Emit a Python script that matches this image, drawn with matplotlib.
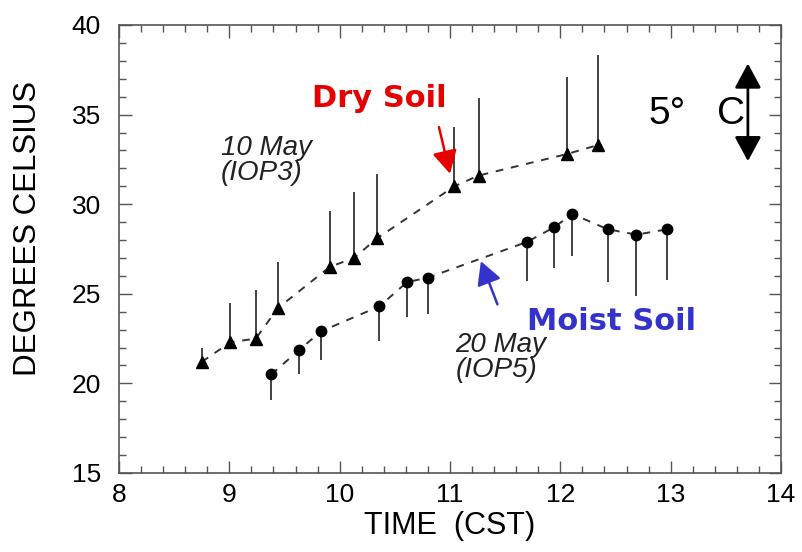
import matplotlib
matplotlib.use("Agg")
import matplotlib.pyplot as plt
from matplotlib.ticker import MultipleLocator

# 10 May (IOP3) - dry soil, triangles with upward bars
dry_time = [8.75, 9.01, 9.24, 9.44, 9.91, 10.13, 10.34, 11.04, 11.26, 12.06, 12.34]
dry_temp = [21.2, 22.3, 22.5, 24.2, 26.5, 27.0, 28.1, 31.0, 31.6, 32.8, 33.3]
dry_upper = [22.0, 24.5, 25.2, 26.8, 29.6, 30.7, 31.7, 34.3, 35.9, 37.1, 38.3]

# 20 May (IOP5) - moist soil, circles with downward bars
moist_time = [9.38, 9.63, 9.83, 10.36, 10.61, 10.80, 11.70, 11.94, 12.11, 12.43, 12.69, 12.97]
moist_temp = [20.5, 21.85, 22.9, 24.3, 25.65, 25.9, 27.9, 28.7, 29.45, 28.6, 28.3, 28.6]
moist_lower = [19.1, 20.5, 21.3, 22.35, 23.7, 23.9, 25.7, 26.45, 27.1, 25.65, 24.9, 25.75]

plt.rcParams['font.family'] = ['Liberation Sans', 'DejaVu Sans']

fig = plt.figure(figsize=(8.02, 5.52), dpi=100)
ax = fig.add_axes([119 / 802, 1 - 473 / 552, (781 - 119) / 802, (473 - 25) / 552])

line_col = '#333333'
ax.vlines(dry_time, dry_temp, dry_upper, color=line_col, lw=1.3)
ax.vlines(moist_time, moist_lower, moist_temp, color=line_col, lw=1.3)
ax.plot(dry_time, dry_temp, ls=(0, (4, 4)), color=line_col, lw=1.4,
        marker='^', ms=9, mfc='black', mec='black')
ax.plot(moist_time, moist_temp, ls=(0, (4, 4)), color=line_col, lw=1.4,
        marker='o', ms=7.5, mfc='black', mec='black')

ax.set_xlim(8, 14)
ax.set_ylim(15, 40)
ax.xaxis.set_major_locator(MultipleLocator(1))
ax.xaxis.set_minor_locator(MultipleLocator(0.2))
ax.yaxis.set_major_locator(MultipleLocator(5))
ax.yaxis.set_minor_locator(MultipleLocator(1))
ax.tick_params(which='both', direction='in', top=True, right=True,
               color='#555555', width=1.0)
ax.tick_params(which='major', length=9, labelsize=19)
ax.tick_params(which='minor', length=5)
ax.tick_params(axis='x', pad=7)
ax.tick_params(axis='y', pad=13)
for s in ax.spines.values():
    s.set_color('#555555')
    s.set_linewidth(1.2)

ax.set_xlabel("TIME  (CST)", fontsize=22, labelpad=3)
fig.text(28 / 802, 1 - 229 / 552, "DEGREES CELSIUS", rotation=90,
         fontsize=22.5, ha='center', va='center')

# italic date labels
ax.text(8.92, 33.85, "10 May\n(IOP3)", style='italic', fontsize=20,
        ha='left', va='top', linespacing=0.92, color='#222222')
ax.text(11.05, 22.85, "20 May\n(IOP5)", style='italic', fontsize=20,
        ha='left', va='top', linespacing=0.92, color='#222222')

# coloured callouts
head = '-|>,head_length=0.5,head_width=0.27'
ax.annotate("", xy=(11.0, 31.7), xytext=(10.90, 34.3),
            arrowprops=dict(arrowstyle=head, color='#e60000', lw=1.8,
                            mutation_scale=28, shrinkA=0, shrinkB=0))
ax.text(10.36, 35.9, "Dry Soil", color='#e60000', fontsize=22,
        fontweight='bold', family='DejaVu Sans', ha='center', va='center')
ax.annotate("", xy=(11.28, 26.82), xytext=(11.43, 24.41),
            arrowprops=dict(arrowstyle=head, color='#3333cc', lw=1.8,
                            mutation_scale=28, shrinkA=0, shrinkB=0))
ax.text(11.70, 23.46, "Moist Soil", color='#3333cc', fontsize=22,
        fontweight='bold', family='DejaVu Sans', ha='left', va='center')

# 5 degree scale arrow
ax.annotate("", xy=(13.70, 37.85), xytext=(13.70, 32.4),
            arrowprops=dict(arrowstyle='<|-|>,head_length=0.5,head_width=0.27',
                            color='black', lw=2, mutation_scale=30,
                            shrinkA=0, shrinkB=0))
ax.text(12.80, 35.05, "5\u00b0", fontsize=28, ha='left', va='center')
ax.text(13.675, 35.05, "C", fontsize=28, ha='right', va='center')

fig.savefig("out.png", dpi=100)
